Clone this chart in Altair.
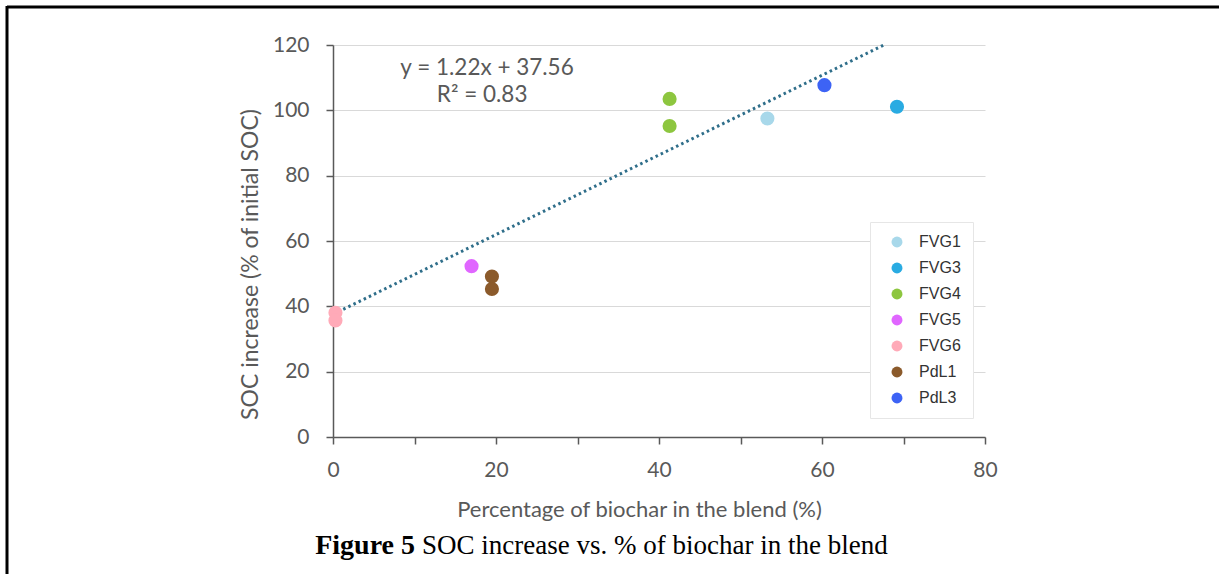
import altair as alt
import pandas as pd

# ---- data ----
series = ["FVG1", "FVG3", "FVG4", "FVG4", "FVG5", "FVG6", "FVG6", "PdL1", "PdL1", "PdL3"]
biochar = [53.3, 69.2, 41.3, 41.3, 17.0, 0.3, 0.3, 19.5, 19.5, 60.3]
soc = [97.5, 101.1, 103.5, 95.2, 52.3, 38.0, 35.7, 49.1, 45.3, 107.7]

legend_names = ["FVG1", "FVG3", "FVG4", "FVG5", "FVG6", "PdL1", "PdL3"]
legend_colors = ["#A8D8EA", "#29ABE2", "#8DC63F", "#E066FF", "#FFAAB8", "#8B5A2B", "#3D63F5"]

trend_x = [0, 67.6]
trend_y = [37.56, 120]

eq_text = ["y = 1.22x + 37.56", "R\u00b2 = 0.83"]
eq_x = [18.9, 18.3]
eq_y = [113.0, 104.7]

x_ticks = [0, 10, 20, 30, 40, 50, 60, 70, 80]
y_ticks = [0, 10, 20, 30, 40, 50, 60, 70, 80, 90, 100, 110, 120]

pts = pd.DataFrame({"series": series, "x": biochar, "y": soc})
trend = pd.DataFrame({"x": trend_x, "y": trend_y})
eq = pd.DataFrame({"t": eq_text, "x": eq_x, "y": eq_y})

GRAY = "#595959"
FONT = "Lato"

xscale = alt.Scale(domain=[0, 80], nice=False, zero=True)
yscale = alt.Scale(domain=[0, 120], nice=False)

xaxis = alt.Axis(
    values=x_ticks,
    labelExpr="datum.value % 20 == 0 ? datum.label : ''",
    labelFlush=False,
    grid=False,
    title="Percentage of biochar in the blend (%)",
    titleX=306, titleY=79, titleBaseline="alphabetic",
    titleFont=FONT, titleFontSize=22, titleFontWeight="normal", titleColor=GRAY,
    labelFont=FONT, labelFontSize=21, labelColor=GRAY, labelPadding=15,
    domainColor=GRAY, domainWidth=1.5, tickColor=GRAY, tickWidth=1.5, tickSize=7,
)
yaxis = alt.Axis(
    values=y_ticks,
    labelExpr="datum.value % 20 == 0 ? datum.label : ''",
    labelFlush=False,
    grid=True,
    gridColor="#D9D9D9", gridWidth=1.2,
    gridOpacity={"condition": {"test": "datum.value % 20 != 0", "value": 0}, "value": 1},
    title="SOC increase (% of initial SOC)",
    titleY=219,
    titleFont=FONT, titleFontSize=23, titleFontWeight="normal", titleColor=GRAY,
    titlePadding=10,
    labelFont=FONT, labelFontSize=21, labelColor=GRAY, labelPadding=17,
    domainColor=GRAY, domainWidth=1.5, tickColor=GRAY, tickWidth=1.5, tickSize=7,
)

line = alt.Chart(trend).mark_line(
    color="#2F6E8A", strokeWidth=3, strokeDash=[2.5, 3.2], clip=False
).encode(x=alt.X("x:Q", scale=xscale, axis=xaxis), y=alt.Y("y:Q", scale=yscale, axis=yaxis))

points = alt.Chart(pts).mark_circle(size=200, opacity=1).encode(
    x=alt.X("x:Q", scale=xscale),
    y=alt.Y("y:Q", scale=yscale),
    color=alt.Color(
        "series:N",
        scale=alt.Scale(domain=legend_names, range=legend_colors),
        legend=alt.Legend(
            title=None, orient="none", legendX=537, legendY=177,
            strokeColor="#E6E6E6", fillColor="white", padding=12,
            symbolType="circle", symbolSize=120, symbolStrokeWidth=0,
            symbolOffset=7,
            labelFont="Liberation Sans", labelFontSize=16, labelColor="#333333",
            labelOffset=14, rowPadding=10,
        ),
    ),
)

eqtext = alt.Chart(eq).mark_text(
    font=FONT, fontSize=22.5, color=GRAY, align="center", baseline="middle"
).encode(x=alt.X("x:Q", scale=xscale), y=alt.Y("y:Q", scale=yscale), text="t:N")

# caption and frame
cap_bold = alt.Chart(pd.DataFrame({"t": ["Figure 5"]})).mark_text(
    font="Liberation Serif", fontSize=28, fontWeight="bold", color="black",
    align="right", baseline="alphabetic"
).encode(x=alt.value(82), y=alt.value(509), text="t:N")
cap_rest = alt.Chart(pd.DataFrame({"t": ["SOC increase vs. % of biochar in the blend"]})).mark_text(
    font="Liberation Serif", fontSize=27, color="black",
    align="left", baseline="alphabetic"
).encode(x=alt.value(89), y=alt.value(509), text="t:N")

frame_top = alt.Chart(pd.DataFrame({"a": [0]})).mark_rule(color="black", strokeWidth=3).encode(
    x=alt.value(-326), x2=alt.value(900), y=alt.value(-38))
frame_left = alt.Chart(pd.DataFrame({"a": [0]})).mark_rule(color="black", strokeWidth=3).encode(
    x=alt.value(-326), y=alt.value(-39), y2=alt.value(540))

chart = alt.layer(line, points, eqtext, cap_bold, cap_rest, frame_top, frame_left).properties(
    width=652, height=392,
    autosize=alt.AutoSizeParams(type="none"),
    padding={"left": 333, "top": 45, "right": 234, "bottom": 137},
    background="white",
).configure_view(stroke=None)

chart.save("out.html", embed_options={"renderer": "svg", "actions": False})
